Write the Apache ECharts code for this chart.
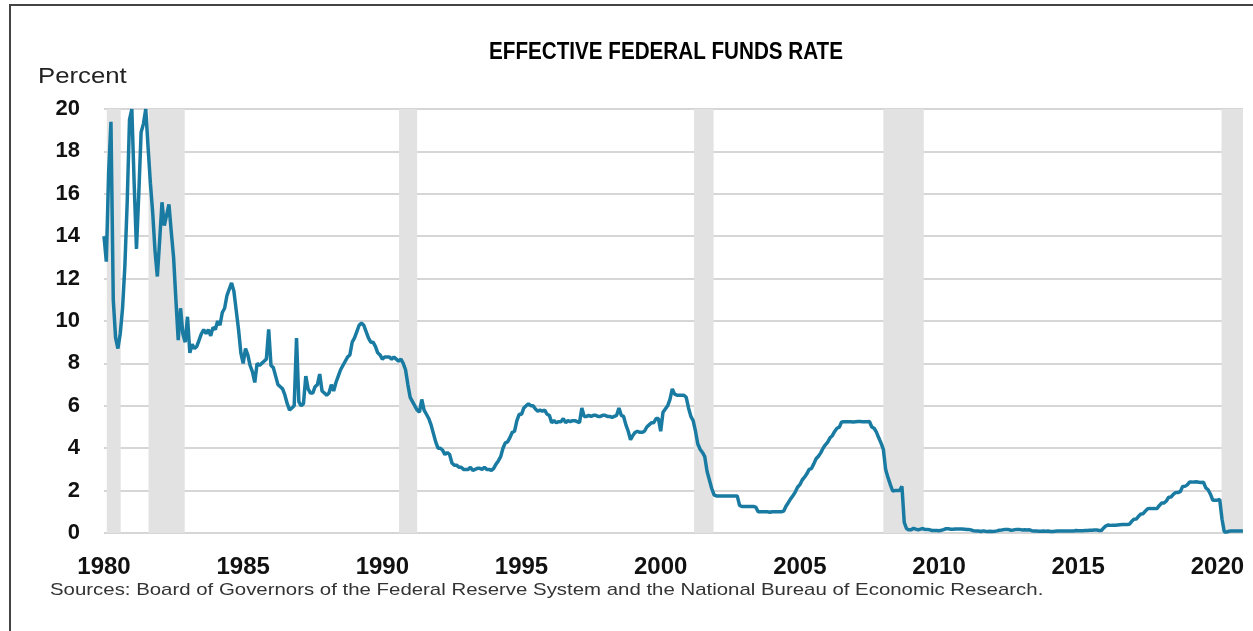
<!DOCTYPE html>
<html>
<head>
<meta charset="utf-8">
<script src="https://cdn.jsdelivr.net/npm/echarts@6/dist/echarts.min.js"></script>
<style>
  html, body { margin: 0; padding: 0; background: #fff; }
  #chart { width: 1253px; height: 631px; }
</style>
</head>
<body>
<div id="chart"></div>
<script>
// monthly effective federal funds rate, Jan 1980 onward (percent)
var startYear = 1980;
var rates1980s = [
  14.0, 12.8, 17.0, 19.4, 11.0, 9.2, 8.7, 9.4, 10.6, 12.6, 15.6, 19.5,
  20.0, 16.5, 13.4, 16.0, 18.9, 19.3, 20.0, 18.2, 16.5, 15.1, 13.3, 12.1,
  13.8, 15.6, 14.5, 15.0, 15.5, 14.2, 13.0, 11.0, 9.1, 10.6, 9.4, 9.0,
  10.2, 8.5, 8.9, 8.7, 8.8, 9.1, 9.4, 9.6, 9.4, 9.6, 9.3, 9.7,
  9.6, 10.0, 9.8, 10.4, 10.6, 11.2, 11.5, 11.8, 11.4, 10.5, 9.6, 8.5,
  8.0, 8.7, 8.4, 7.9, 7.6, 7.1, 8.0, 7.9, 8.0, 8.1, 8.2, 9.6,
  7.9, 7.8, 7.4, 7.0, 6.9, 6.8, 6.5, 6.1, 5.8, 5.9, 6.0, 9.2,
  6.2, 6.0, 6.1, 7.4, 6.8, 6.6, 6.6, 6.9, 7.0, 7.5, 6.7, 6.6,
  6.5, 6.6, 7.0, 6.7, 7.1, 7.4, 7.7, 7.9, 8.1, 8.3, 8.4, 9.0,
  9.2, 9.5, 9.8, 9.9, 9.8, 9.5, 9.2, 9.0, 9.0, 8.8, 8.5, 8.4
];
var rates1990s = [
  8.2, 8.3, 8.3, 8.3, 8.2, 8.3, 8.2, 8.1, 8.2, 8.0, 7.7, 7.0,
  6.4, 6.2, 6.0, 5.8, 5.7, 6.3, 5.8, 5.6, 5.4, 5.1, 4.7, 4.3,
  4.0, 4.0, 3.9, 3.7, 3.8, 3.7, 3.3, 3.2, 3.2, 3.1, 3.1, 3.0,
  3.0, 3.0, 3.1, 2.95, 3.0, 3.05, 3.05, 3.0, 3.1, 3.0, 3.0, 2.95,
  3.05, 3.25, 3.4, 3.6, 4.0, 4.25, 4.3, 4.5, 4.75, 4.8, 5.3, 5.6,
  5.6, 5.9, 6.0, 6.1, 6.0, 6.0, 5.85, 5.75, 5.8, 5.75, 5.8, 5.6,
  5.55, 5.2, 5.3, 5.2, 5.25, 5.25, 5.4, 5.2, 5.3, 5.25, 5.3, 5.3,
  5.25, 5.2, 5.9, 5.5, 5.5, 5.55, 5.5, 5.55, 5.55, 5.5, 5.5, 5.55,
  5.55, 5.5, 5.5, 5.45, 5.5, 5.55, 5.9, 5.55, 5.5, 5.1, 4.8, 4.4,
  4.6, 4.75, 4.8, 4.75, 4.75, 4.8, 5.0, 5.1, 5.2, 5.2, 5.4, 5.4
];
var rates2000s = [
  4.8, 5.7, 5.85, 6.0, 6.3, 6.8, 6.55, 6.5, 6.5, 6.5, 6.5, 6.4,
  5.9, 5.5, 5.3, 4.8, 4.2, 3.95, 3.8, 3.6, 2.9, 2.5, 2.1, 1.8,
  1.75, 1.75, 1.75, 1.75, 1.75, 1.75, 1.75, 1.75, 1.75, 1.75, 1.3, 1.25,
  1.25, 1.25, 1.25, 1.25, 1.25, 1.22, 1.0, 1.0, 1.0, 1.0, 1.0, 0.98,
  1.0, 1.0, 1.0, 1.0, 1.0, 1.03, 1.26, 1.43, 1.61, 1.76, 1.93, 2.16,
  2.28, 2.5, 2.63, 2.79, 3.0, 3.04, 3.26, 3.5, 3.62, 3.78, 4.0, 4.16,
  4.29, 4.49, 4.59, 4.79, 4.94, 4.99, 5.24, 5.25, 5.25, 5.25, 5.25, 5.24,
  5.25, 5.26, 5.26, 5.25, 5.25, 5.25, 5.26, 5.0, 4.94, 4.76, 4.49, 4.24,
  3.94, 2.98, 2.61, 2.28, 1.98, 2.0, 2.01, 2.0, 2.2, 0.5, 0.2, 0.15,
  0.15, 0.22, 0.18, 0.15, 0.18, 0.21, 0.16, 0.16, 0.15, 0.12, 0.12, 0.12
];
var rates2010s = [
  0.11, 0.13, 0.16, 0.2, 0.2, 0.18, 0.18, 0.19, 0.19, 0.19, 0.19, 0.18,
  0.17, 0.16, 0.14, 0.1, 0.09, 0.09, 0.07, 0.1, 0.08, 0.07, 0.08, 0.07,
  0.08, 0.1, 0.13, 0.14, 0.16, 0.16, 0.16, 0.13, 0.14, 0.16, 0.16, 0.16,
  0.14, 0.15, 0.14, 0.15, 0.11, 0.09, 0.09, 0.08, 0.08, 0.09, 0.08, 0.09,
  0.07, 0.07, 0.08, 0.09, 0.09, 0.1, 0.09, 0.09, 0.09, 0.09, 0.09, 0.12,
  0.11, 0.11, 0.11, 0.12, 0.12, 0.13, 0.13, 0.14, 0.14, 0.12, 0.12, 0.24,
  0.34, 0.38, 0.36, 0.37, 0.37, 0.38, 0.39, 0.4, 0.4, 0.4, 0.41, 0.54,
  0.65, 0.66, 0.79, 0.9, 0.91, 1.04, 1.15, 1.16, 1.15, 1.15, 1.16, 1.3,
  1.41, 1.42, 1.51, 1.69, 1.7, 1.82, 1.91, 1.91, 1.95, 2.19, 2.2, 2.27,
  2.4, 2.4, 2.41, 2.42, 2.39, 2.38, 2.4, 2.13, 2.04, 1.83, 1.55, 1.55
];
var rates2020s = [1.55, 1.58, 0.65, 0.05, 0.05, 0.08, 0.09, 0.1, 0.09, 0.09, 0.09, 0.09];

// NBER recessions as decimal years [start, end]
var recessions = [
  [1980.1, 1980.6],
  [1981.6, 1982.9],
  [1990.6, 1991.25],
  [2001.2, 2001.9],
  [2008.0, 2009.45],
  [2020.15, 2020.92]
];

var yTicks = [0, 20, 2];       // min, max, step
var xTicks = [1980, 2020.92, 5];

var allRates = rates1980s.concat(rates1990s, rates2000s, rates2010s, rates2020s);
var seriesData = allRates.map(function (v, i) { return [startYear + i / 12, v]; });

var chart = echarts.init(document.getElementById('chart'));
chart.setOption({
  animation: false,
  backgroundColor: '#fff',
  grid: { left: 104, right: 10, top: 109, bottom: 98, containLabel: false, outerBoundsMode: 'none' },
  graphic: [
    { type: 'line', shape: { x1: 10, y1: 5, x2: 10, y2: 640 }, style: { stroke: '#444', lineWidth: 2 } },
    { type: 'line', shape: { x1: 9, y1: 5, x2: 1260, y2: 5 }, style: { stroke: '#444', lineWidth: 2 } },
    {
      type: 'text', x: 666, y: 52, scaleX: 0.86,
      style: {
        text: 'EFFECTIVE FEDERAL FUNDS RATE', fill: '#000',
        font: 'bold 24px "Liberation Sans", Arial, sans-serif',
        textAlign: 'center', textVerticalAlign: 'middle'
      }
    },
    {
      type: 'text', x: 38, y: 77, scaleX: 1.17,
      style: {
        text: 'Percent', fill: '#222',
        font: '22px "Liberation Sans", Arial, sans-serif',
        textAlign: 'left', textVerticalAlign: 'middle'
      }
    },
    {
      type: 'text', x: 50, y: 590, scaleX: 1.2,
      style: {
        text: 'Sources: Board of Governors of the Federal Reserve System and the National Bureau of Economic Research.',
        fill: '#333',
        font: '17px "Liberation Sans", Arial, sans-serif',
        textAlign: 'left', textVerticalAlign: 'middle'
      }
    }
  ],
  xAxis: {
    type: 'value',
    min: xTicks[0], max: xTicks[1], interval: xTicks[2],
    axisLine: { show: false },
    axisTick: { show: false },
    splitLine: { show: false },
    axisLabel: {
      showMaxLabel: false,
      margin: 22,
      color: '#111',
      fontWeight: 'bold',
      fontSize: 24,
      fontFamily: '"Liberation Sans", Arial, sans-serif',
      formatter: function (v) { return String(v); }
    }
  },
  yAxis: {
    type: 'value',
    min: yTicks[0], max: yTicks[1], interval: yTicks[2],
    axisLine: { show: false },
    axisTick: { show: false },
    splitLine: { lineStyle: { color: '#d6d6d6', width: 2 } },
    axisLabel: {
      margin: 24,
      color: '#111',
      fontWeight: 'bold',
      fontSize: 22,
      fontFamily: '"Liberation Sans", Arial, sans-serif'
    }
  },
  series: [{
    type: 'line',
    data: seriesData,
    showSymbol: false,
    clip: true,
    lineStyle: { color: '#1a7ba2', width: 3.5 },
    markArea: {
      silent: true,
      itemStyle: { color: '#e2e2e2' },
      data: recessions.map(function (r) { return [{ xAxis: r[0] }, { xAxis: r[1] }]; })
    }
  }]
});
</script>
</body>
</html>
